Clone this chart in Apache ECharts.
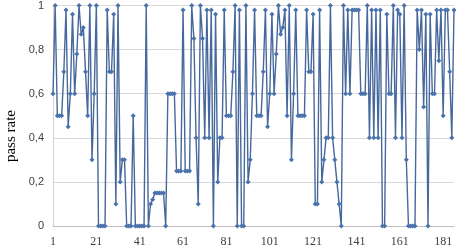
<!DOCTYPE html>
<html>
<head>
<meta charset="utf-8">
<script src="https://cdn.jsdelivr.net/npm/echarts@6/dist/echarts.min.js"></script>
<style>html,body{margin:0;padding:0;background:#fff}#c{width:456px;height:249px}</style>
</head>
<body>
<div id="c"></div>
<script>
const passRate = [
0.6,1.0,0.5,0.5,0.5,0.7,0.98,0.45,0.6,0.96,
0.6,0.78,1.0,0.87,0.9,0.7,0.5,1.0,0.3,0.6,
1.0,0,0,0,0,0.98,0.7,0.7,0.96,0.1,
1.0,0.2,0.3,0.3,0,0,0,0.5,0,0,
0,0,0,1.0,0,0.1,0.12,0.15,0.15,0.15,
0.15,0.15,0,0.6,0.6,0.6,0.6,0.25,0.25,0.25,
0.98,0.25,0.25,0.25,1.0,0.85,0.4,0.1,1.0,0.85,
0.4,0.98,0.4,0.98,0,0.96,0.2,0.4,0.4,0.98,
0.5,0.5,0.5,0.7,1.0,0,0.98,0,0,1.0,
0.2,0.3,0.6,0.98,0.5,0.5,0.5,0.7,0.98,0.45,
0.6,0.96,0.6,0.78,1.0,0.87,0.9,0.98,0.5,1.0,
0.3,0.6,0.98,0.5,0.5,0.5,0.5,0.98,0.7,0.7,
0.96,0.1,0.1,0.98,0.2,0.3,0.4,0.4,1.0,0.4,
0.3,0.2,0.1,0,1.0,0.6,0.98,0.6,0.98,0.98,
0.98,0.98,0.6,0.6,0.6,1.0,0.4,0.98,0.4,0.98,
0.4,0.98,0,0,0.96,0.6,0.6,1.0,0.4,0.98,
0.96,0.4,1.0,0.3,0,0,0,0,0.98,0.8,
0.98,0.54,0.96,0,0.96,0.6,0.6,0.98,0.75,0.98,
0.5,0.98,0.98,0.7,0.4,0.98
];
const categories = passRate.map((v, i) => String(i + 1));
const yTicks = [0, 0.2, 0.4, 0.6, 0.8, 1];
const yAxisTitle = 'pass rate';

const chart = echarts.init(document.getElementById('c'), null, {renderer: 'canvas'});
chart.setOption({
  animation: false,
  grid: {left: 53, right: 2, top: 5, bottom: 23},
  xAxis: {
    type: 'category',
    data: categories,
    boundaryGap: false,
    axisLine: {show: true, lineStyle: {color: '#bfbfbf', width: 1}},
    axisTick: {show: false},
    axisLabel: {interval: 19, color: '#404040', fontFamily: 'Liberation Serif', fontSize: 12, margin: 10},
    splitLine: {show: false}
  },
  yAxis: {
    type: 'value',
    min: 0, max: 1, interval: 0.2,
    axisLine: {show: true, lineStyle: {color: '#d0d0d0'}},
    axisTick: {show: false},
    axisLabel: {
      color: '#404040', fontFamily: 'Liberation Sans', fontSize: 11, margin: 9,
      formatter: v => String(Math.round(v * 10) / 10).replace('.', ',')
    },
    splitLine: {lineStyle: {color: '#d9d9d9', width: 1}}
  },
  graphic: [{
    type: 'text', left: 4, top: 110, rotation: Math.PI / 2,
    style: {text: yAxisTitle, font: '15px "Liberation Serif"', fill: '#000'}
  }],
  series: [{
    type: 'line',
    data: passRate,
    symbol: 'diamond',
    symbolSize: 5,
    showAllSymbol: true,
    lineStyle: {color: '#46689c', width: 1.4},
    itemStyle: {color: '#4a72ad'}
  }]
});
</script>
</body>
</html>
